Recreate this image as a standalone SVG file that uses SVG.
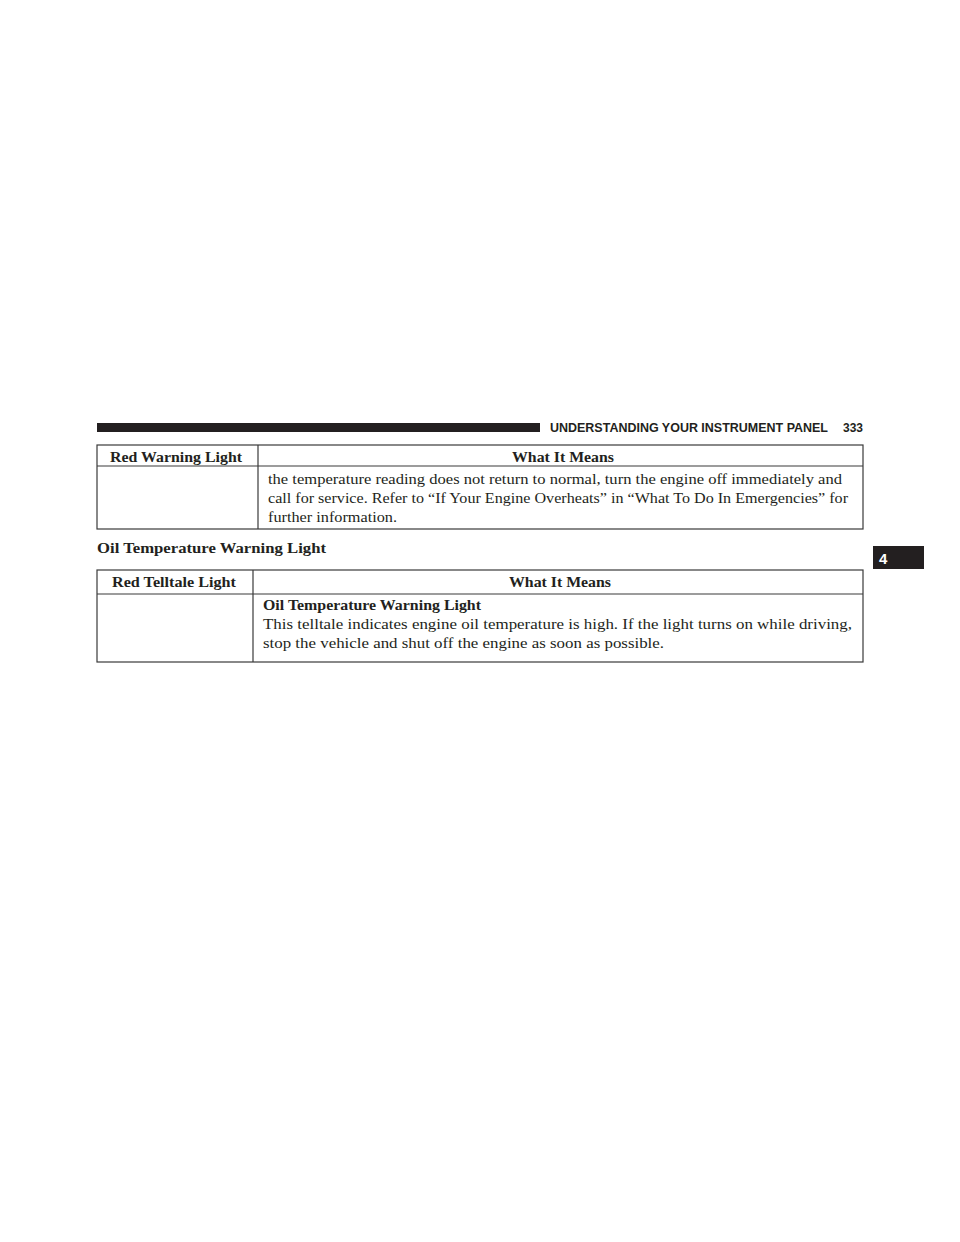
<svg xmlns="http://www.w3.org/2000/svg" width="960" height="1242" viewBox="0 0 960 1242">
<style>
.t{font-family:"Liberation Serif","Times New Roman",serif;font-size:15.5px;fill:#231f20}
.b{font-weight:bold}
.h{font-family:"Liberation Sans",Arial,sans-serif;font-weight:bold;font-size:12px;fill:#231f20}
.ln{stroke:#3a3a3a;stroke-width:1.2;fill:none}
</style>
<rect width="960" height="1242" fill="#ffffff"/>
<g id="page-header">
<rect x="97" y="423" width="443" height="9" fill="#231f20"/>
<text class="h" x="550" y="432" textLength="278" lengthAdjust="spacingAndGlyphs">UNDERSTANDING YOUR INSTRUMENT PANEL</text>
<text class="h" x="843" y="432" textLength="20" lengthAdjust="spacingAndGlyphs">333</text>
</g>
<g id="tab">
<rect x="873" y="546" width="51" height="23" fill="#231f20"/>
<text x="879" y="564" font-family="Liberation Sans,Arial,sans-serif" font-weight="bold" font-size="15" fill="#ffffff">4</text>
</g>
<g id="table1">
<rect class="ln" x="97" y="445" width="766" height="84"/>
<line class="ln" x1="97" y1="466" x2="863" y2="466"/>
<line class="ln" x1="258" y1="445" x2="258" y2="529"/>
<text class="t b" x="110" y="462" textLength="132" lengthAdjust="spacingAndGlyphs">Red Warning Light</text>
<text class="t b" x="512" y="462" textLength="102" lengthAdjust="spacingAndGlyphs">What It Means</text>
<text class="t" x="268" y="484" textLength="574" lengthAdjust="spacingAndGlyphs">the temperature reading does not return to normal, turn the engine off immediately and</text>
<text class="t" x="268" y="503" textLength="580" lengthAdjust="spacingAndGlyphs">call for service. Refer to “If Your Engine Overheats” in “What To Do In Emergencies” for</text>
<text class="t" x="268" y="522" textLength="129" lengthAdjust="spacingAndGlyphs">further information.</text>
</g>
<g id="section-title">
<text class="t b" x="97" y="553" textLength="229" lengthAdjust="spacingAndGlyphs">Oil Temperature Warning Light</text>
</g>
<g id="table2">
<rect class="ln" x="97" y="570" width="766" height="92"/>
<line class="ln" x1="97" y1="594" x2="863" y2="594"/>
<line class="ln" x1="253" y1="570" x2="253" y2="662"/>
<text class="t b" x="112" y="587" textLength="124" lengthAdjust="spacingAndGlyphs">Red Telltale Light</text>
<text class="t b" x="509" y="587" textLength="102" lengthAdjust="spacingAndGlyphs">What It Means</text>
<text class="t b" x="263" y="610" textLength="218" lengthAdjust="spacingAndGlyphs">Oil Temperature Warning Light</text>
<text class="t" x="263" y="629" textLength="589" lengthAdjust="spacingAndGlyphs">This telltale indicates engine oil temperature is high. If the light turns on while driving,</text>
<text class="t" x="263" y="648" textLength="401" lengthAdjust="spacingAndGlyphs">stop the vehicle and shut off the engine as soon as possible.</text>
</g>
</svg>
